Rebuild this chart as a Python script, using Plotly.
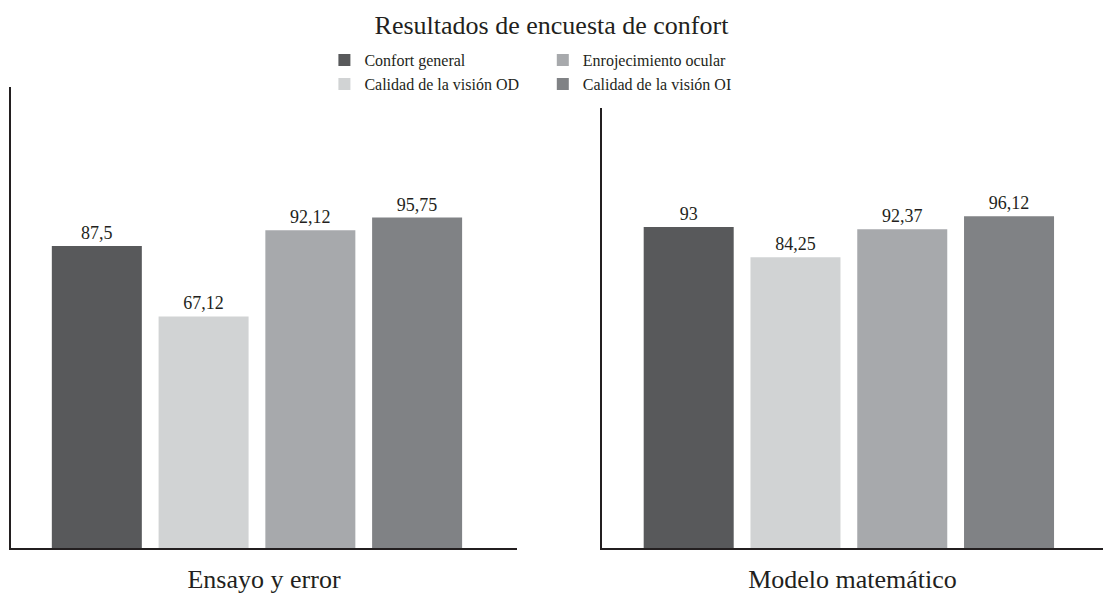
import plotly.graph_objects as go

categories = ["Ensayo y error", "Modelo matemático"]
series = ["Confort general", "Calidad de la visión OD", "Enrojecimiento ocular", "Calidad de la visión OI"]
values = {
    "Confort general": [87.5, 93],
    "Calidad de la visión OD": [67.12, 84.25],
    "Enrojecimiento ocular": [92.12, 92.37],
    "Calidad de la visión OI": [95.75, 96.12],
}
colors = ["#58595b", "#d1d3d4", "#a7a9ac", "#808285"]
legend_of = ["legend", "legend", "legend2", "legend2"]

FONT = "Liberation Serif"
INK = "#231f20"

def fmt(v):
    s = ("%g" % v)
    return s.replace(".", ",")

fig = go.Figure()
for si, name in enumerate(series):
    for ci, cat in enumerate(categories):
        v = values[name][ci]
        fig.add_trace(go.Bar(
            x=[cat], y=[v], name=name,
            marker=dict(color=colors[si], line=dict(width=0)),
            text=[fmt(v)], textposition="outside", cliponaxis=False,
            textfont=dict(family=FONT, size=18, color=INK),
            xaxis="x" if ci == 0 else "x2",
            yaxis="y" if ci == 0 else "y2",
            showlegend=(ci == 0),
            legend=legend_of[si],
            legendgroup=name,
            hoverinfo="skip",
        ))

axis_common = dict(showline=True, linecolor=INK, linewidth=1.5, showgrid=False,
                   zeroline=False, ticks="", fixedrange=True)

fig.update_layout(
    width=1103, height=594,
    margin=dict(l=11, r=0, t=87, b=46),
    paper_bgcolor="white", plot_bgcolor="white",
    barmode="group", bargap=0.0, bargroupgap=0.157,
    font=dict(family=FONT, color=INK),
    title=dict(text="Resultados de encuesta de confort", x=0.5, xanchor="center",
               y=1 - 25 / 594, yanchor="middle", yref="container",
               font=dict(family=FONT, size=26, color=INK)),
    xaxis=dict(domain=[0, 0.4634], range=[-0.576, 0.609], showticklabels=False,
               title=dict(text=categories[0], font=dict(size=26, color=INK), standoff=24),
               **axis_common),
    xaxis2=dict(domain=[0.5412, 1], range=[-0.578, 0.595], showticklabels=False,
                title=dict(text=categories[1], font=dict(size=26, color=INK), standoff=24),
                anchor="y2", **axis_common),
    yaxis=dict(domain=[0, 1], range=[0, 133.6], showticklabels=False, **axis_common),
    yaxis2=dict(domain=[0, 0.9544], range=[0, 127.5], showticklabels=False,
                anchor="x2", **axis_common),
    legend=dict(x=0.287, xanchor="left", y=1.095, yanchor="top", orientation="v",
                font=dict(family=FONT, size=16, color=INK), tracegroupgap=0,
                bgcolor="rgba(0,0,0,0)"),
    legend2=dict(x=0.487, xanchor="left", y=1.095, yanchor="top", orientation="v",
                 font=dict(family=FONT, size=16, color=INK), tracegroupgap=0,
                 bgcolor="rgba(0,0,0,0)"),
)

fig.write_html("out.html")
